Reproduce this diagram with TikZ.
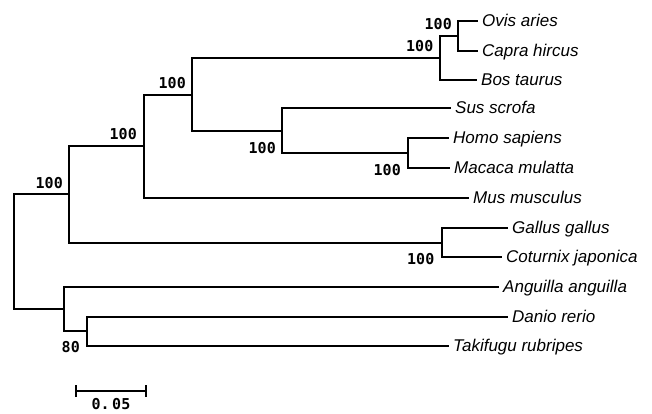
\documentclass[tikz,border=0pt]{standalone}
\usepackage{fontspec}
\setmainfont{Liberation Sans}
\newfontfamily\bootfont{DejaVu Sans Mono}[BoldFont={DejaVu Sans Mono Bold}]
\begin{document}
\begin{tikzpicture}[x=1pt,y=-1pt,
  branch/.style={line width=2.2pt,line cap=rect},
  taxon/.style={anchor=base west,inner sep=0pt,font=\fontsize{17}{18}\selectfont\itshape},
  boot/.style={anchor=east,inner sep=0pt,font=\fontsize{15}{16}\selectfont\bootfont\bfseries}]
\useasboundingbox (0,0) rectangle (652,413);
% tips
\coordinate (ovis) at (477,21);
\coordinate (capra) at (477,51);
\coordinate (bos) at (476,80);
\coordinate (sus) at (450,108);
\coordinate (homo) at (448,138);
\coordinate (macaca) at (449,168);
\coordinate (mus) at (468,198);
\coordinate (gallus) at (507,228);
\coordinate (coturnix) at (501,257);
\coordinate (anguilla) at (498,287);
\coordinate (danio) at (507,317);
\coordinate (taki) at (448,346);
% internal nodes
\coordinate (E) at (458,36);
\coordinate (D) at (440,58);
\coordinate (G) at (408,153);
\coordinate (F) at (282,131);
\coordinate (C) at (192,95);
\coordinate (B) at (144,146);
\coordinate (K) at (442,243);
\coordinate (A) at (69,194);
\coordinate (I) at (87,331);
\coordinate (H) at (64,309);
\coordinate (R) at (14,252);
% branches
\draw[branch] (E) |- (ovis);
\draw[branch] (E) |- (capra);
\draw[branch] (D) |- (E);
\draw[branch] (D) |- (bos);
\draw[branch] (G) |- (homo);
\draw[branch] (G) |- (macaca);
\draw[branch] (F) |- (sus);
\draw[branch] (F) |- (G);
\draw[branch] (C) |- (D);
\draw[branch] (C) |- (F);
\draw[branch] (B) |- (C);
\draw[branch] (B) |- (mus);
\draw[branch] (K) |- (gallus);
\draw[branch] (K) |- (coturnix);
\draw[branch] (A) |- (B);
\draw[branch] (A) |- (K);
\draw[branch] (I) |- (danio);
\draw[branch] (I) |- (taki);
\draw[branch] (H) |- (anguilla);
\draw[branch] (H) |- (I);
\draw[branch] (R) |- (A);
\draw[branch] (R) |- (H);
% taxon labels
\node[taxon] (tOvis) at ([xshift=5pt,yshift=-5.5pt]ovis) {Ovis aries};
\node[taxon] (tCapra) at ([xshift=5pt,yshift=-5.5pt]capra) {Capra hircus};
\node[taxon] (tBos) at ([xshift=5pt,yshift=-5.5pt]bos) {Bos taurus};
\node[taxon] (tSus) at ([xshift=5pt,yshift=-5.5pt]sus) {Sus scrofa};
\node[taxon] (tHomo) at ([xshift=5pt,yshift=-5.5pt]homo) {Homo sapiens};
\node[taxon] (tMacaca) at ([xshift=5pt,yshift=-5.5pt]macaca) {Macaca mulatta};
\node[taxon] (tMus) at ([xshift=5pt,yshift=-5.5pt]mus) {Mus musculus};
\node[taxon] (tGallus) at ([xshift=5pt,yshift=-5.5pt]gallus) {Gallus gallus};
\node[taxon] (tCot) at ([xshift=5pt,yshift=-5.5pt]coturnix) {Coturnix japonica};
\node[taxon] (tAng) at ([xshift=5pt,yshift=-5.5pt]anguilla) {Anguilla anguilla};
\node[taxon] (tDanio) at ([xshift=5pt,yshift=-5.5pt]danio) {Danio rerio};
\node[taxon] (tTaki) at ([xshift=5pt,yshift=-5.5pt]taki) {Takifugu rubripes};
% bootstrap values
\node[boot] (bA) at (63,183) {100};
\node[boot] (bB) at (137,134) {100};
\node[boot] (bC) at (186,83) {100};
\node[boot] (bF) at (276,148) {100};
\node[boot] (bE) at (452,24) {100};
\node[boot] (bD) at (433.5,46) {100};
\node[boot] (bG) at (401,170) {100};
\node[boot] (bK) at (434.5,259) {100};
\node[boot] (bI) at (80,347) {80};
% scale bar
\coordinate (s1) at (76,391);
\coordinate (s2) at (146,391);
\draw[branch,line cap=butt] (s1) -- (s2);
\draw[branch,line cap=butt] ([yshift=-6pt]s1) -- ([yshift=6pt]s1);
\draw[branch,line cap=butt] ([yshift=-6pt]s2) -- ([yshift=6pt]s2);
\node[inner sep=0pt,font=\fontsize{15}{16}\selectfont\bootfont\bfseries] (scale) at (111,404) {0.\,05};
\end{tikzpicture}
\end{document}
